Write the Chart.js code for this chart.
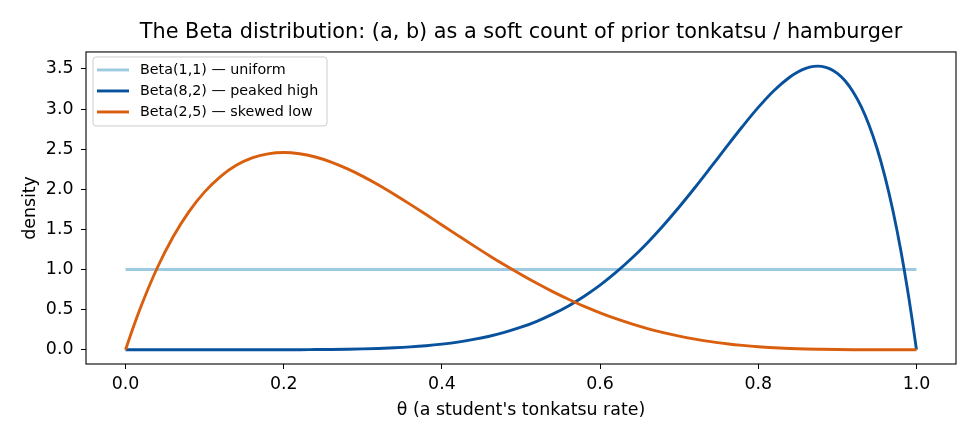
<!DOCTYPE html>
<html><head><meta charset="utf-8">
<script src="https://cdn.jsdelivr.net/npm/chart.js@4.4.1/dist/chart.umd.min.js"></script>
<style>html,body{margin:0;padding:0;background:#fff}#wrap{width:975px;height:442px}</style>
</head><body><div id="wrap"><canvas id="c" width="975" height="442"></canvas></div>
<script>
const thetaSkewed = [0,0.01,0.02,0.04,0.06,0.08,0.10,0.12,0.14,0.16,0.18,0.20,0.22,0.24,0.26,0.28,0.30,0.32,0.34,0.36,0.38,0.40,0.42,0.44,0.46,0.48,0.50,0.52,0.54,0.56,0.58,0.60,0.62,0.64,0.66,0.68,0.70,0.72,0.74,0.76,0.78,0.80,0.82,0.84,0.86,0.88,0.90,0.92,0.94,0.96,0.98,0.99,1.00];
const densitySkewed = [0,0.288,0.553,1.019,1.405,1.719,1.968,2.159,2.298,2.390,2.441,2.458,2.443,2.402,2.339,2.257,2.161,2.053,1.935,1.812,1.685,1.555,1.426,1.298,1.173,1.053,0.938,0.828,0.725,0.630,0.541,0.461,0.388,0.323,0.265,0.214,0.170,0.133,0.101,0.076,0.055,0.038,0.026,0.017,0.010,0.006,0.003,0.001,0,0,0,0,0];
const thetaPeaked = [0,0.10,0.20,0.22,0.24,0.26,0.28,0.30,0.32,0.34,0.36,0.38,0.40,0.42,0.44,0.46,0.48,0.50,0.52,0.54,0.56,0.58,0.60,0.62,0.64,0.66,0.68,0.70,0.72,0.74,0.76,0.78,0.80,0.82,0.84,0.85,0.86,0.87,0.875,0.88,0.89,0.90,0.91,0.92,0.93,0.94,0.95,0.96,0.97,0.98,0.99,0.995,1.00];
const densityPeaked = [0,0,0.001,0.001,0.003,0.004,0.007,0.011,0.017,0.025,0.036,0.051,0.071,0.096,0.129,0.169,0.220,0.281,0.355,0.444,0.547,0.668,0.806,0.964,1.140,1.335,1.549,1.779,2.022,2.275,2.531,2.782,3.020,3.231,3.399,3.462,3.507,3.531,3.534,3.531,3.503,3.444,3.349,3.213,3.033,2.801,2.514,2.164,1.745,1.250,0.671,0.348,0];
const thetaUniform = [0, 1];
const densityUniform = [1, 1];
const seriesLabels = ["Beta(1,1) \u2014 uniform", "Beta(8,2) \u2014 peaked high", "Beta(2,5) \u2014 skewed low"];
const seriesColors = ["#9ecae1", "#08519c", "#d95f0e"];
const xTicks = [0, 0.2, 0.4, 0.6, 0.8, 1.0];
const yTicks = [0, 0.5, 1.0, 1.5, 2.0, 2.5, 3.0, 3.5];
const chartTitle = "The Beta distribution: (a, b) as a soft count of prior tonkatsu / hamburger";
const xLabel = "\u03b8 (a student's tonkatsu rate)";
const yLabel = "density";

const FONT = "'DejaVu Sans', sans-serif";
const LW = 2.9;
const pts = (xs, ys) => xs.map((x, i) => ({x: x, y: ys[i]}));

const frameAndLegend = {
  id: 'frameAndLegend',
  afterDatasetsDraw(chart) {
    const {ctx, chartArea: a} = chart;
    ctx.save();
    ctx.strokeStyle = '#000';
    ctx.lineWidth = 1.1;
    ctx.strokeRect(a.left, a.top, a.right - a.left, a.bottom - a.top);
    // legend
    const bx = a.left + 7, by = a.top + 5, bw = 234, bh = 69, r = 3;
    ctx.beginPath();
    ctx.moveTo(bx + r, by);
    ctx.arcTo(bx + bw, by, bx + bw, by + bh, r);
    ctx.arcTo(bx + bw, by + bh, bx, by + bh, r);
    ctx.arcTo(bx, by + bh, bx, by, r);
    ctx.arcTo(bx, by, bx + bw, by, r);
    ctx.closePath();
    ctx.fillStyle = 'rgba(255,255,255,0.8)';
    ctx.fill();
    ctx.strokeStyle = '#cccccc';
    ctx.lineWidth = 1;
    ctx.stroke();
    ctx.font = "14.3px " + FONT;
    ctx.textBaseline = 'middle';
    ctx.textAlign = 'left';
    for (let i = 0; i < seriesLabels.length; i++) {
      const y = by + 13 + i * 21;
      ctx.beginPath();
      ctx.moveTo(bx + 4, y);
      ctx.lineTo(bx + 36, y);
      ctx.strokeStyle = seriesColors[i];
      ctx.lineWidth = LW;
      ctx.stroke();
      ctx.fillStyle = '#000';
      ctx.fillText(seriesLabels[i], bx + 47, y + 0.5);
    }
    ctx.restore();
  }
};

Chart.defaults.color = '#000';
Chart.defaults.font.family = FONT;

new Chart(document.getElementById('c'), {
  type: 'line',
  data: {
    datasets: [
      {label: seriesLabels[0], data: pts(thetaUniform, densityUniform), borderColor: seriesColors[0], borderWidth: LW, pointRadius: 0, order: 3},
      {label: seriesLabels[1], data: pts(thetaPeaked, densityPeaked), borderColor: seriesColors[1], borderWidth: LW, pointRadius: 0, cubicInterpolationMode: 'monotone', order: 2},
      {label: seriesLabels[2], data: pts(thetaSkewed, densitySkewed), borderColor: seriesColors[2], borderWidth: LW, pointRadius: 0, cubicInterpolationMode: 'monotone', order: 1}
    ]
  },
  options: {
    responsive: false,
    animation: false,
    devicePixelRatio: 1,
    layout: {padding: {left: 0, right: 19, top: 0, bottom: 0}},
    plugins: {
      legend: {display: false},
      tooltip: {enabled: false},
      title: {
        display: true, text: chartTitle, fullSize: false,
        font: {size: 20.8, weight: 'normal', family: FONT, lineHeight: 1.2},
        color: '#000',
        padding: {top: 20, bottom: 7}
      }
    },
    scales: {
      x: {
        type: 'linear', min: -0.05, max: 1.05,
        afterBuildTicks: s => { s.ticks = xTicks.map(v => ({value: v})); },
        afterFit: s => { s.height = 78; },
        ticks: {callback: v => Number(v).toFixed(1), font: {size: 17.4}, padding: 5, maxRotation: 0, autoSkip: false},
        grid: {drawOnChartArea: false, drawTicks: true, tickLength: 5, color: '#000', lineWidth: 1},
        border: {display: false},
        title: {display: true, text: xLabel, font: {size: 17.4, lineHeight: 1.2}, padding: {top: 0, bottom: 20.6}}
      },
      y: {
        type: 'linear', min: -0.177, max: 3.711,
        afterBuildTicks: s => { s.ticks = yTicks.map(v => ({value: v})); },
        afterFit: s => { s.width = 86; },
        ticks: {callback: v => Number(v).toFixed(1), font: {size: 17.4}, padding: 7.5, autoSkip: false},
        grid: {drawOnChartArea: false, drawTicks: true, tickLength: 5, color: '#000', lineWidth: 1},
        border: {display: false},
        title: {display: true, text: yLabel, font: {size: 17.4, lineHeight: 1.2}, padding: {top: 19.6, bottom: 0}}
      }
    }
  },
  plugins: [frameAndLegend]
});
</script>
</body></html>
